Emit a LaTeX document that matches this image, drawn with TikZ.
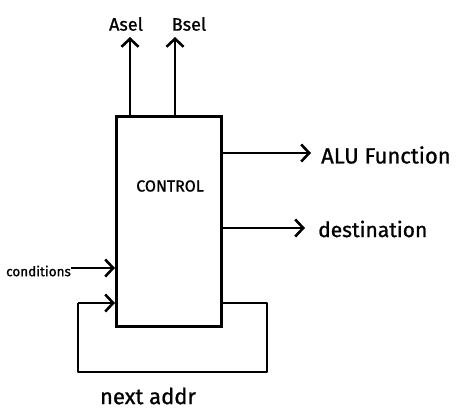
\documentclass[tikz,border=0pt]{standalone}
\usepackage{fontspec}
\setmainfont{Fira Sans}[UprightFeatures={FakeBold=1}]
\usetikzlibrary{arrows.meta}
\begin{document}
\begin{tikzpicture}[x=1pt,y=-1pt,
  wire/.style={line width=2.6pt,line join=round},
  arr/.style={wire,-{Straight Barb[length=8pt,width=17pt,line width=2.6pt]}},
  lbl/.style={inner sep=0pt,font=\fontsize{21}{24}\selectfont}]
\useasboundingbox (0,0) rectangle (462,410);
\node[draw,line width=2.6pt,minimum width=105pt,minimum height=210pt,anchor=north west,inner sep=0pt] (ctl) at (115,115) {};
\node[inner sep=0pt,font=\fontsize{16}{18}\selectfont] (ctltext) at (170,186) {CONTROL};
\coordinate (a0) at (130,115);
\coordinate (b0) at (175,115);
\node[inner sep=0pt,font=\fontsize{18}{20}\selectfont] (asel) at (126,24) {Asel};
\node[inner sep=0pt,font=\fontsize{18}{20}\selectfont] (bsel) at (189,24) {Bsel};
\coordinate (atip) at (130,37);
\coordinate (btip) at (175,37);
\draw[arr] (a0) -- (atip);
\draw[arr] (b0) -- (btip);
\node[lbl,anchor=west,font=\fontsize{22}{24}\selectfont] (alu) at (321,155) {ALU Function};
\node[lbl,anchor=west] (dest) at (318,229) {destination};
\coordinate (aluS) at (220,153);
\coordinate (destS) at (220,228);
\draw[arr] (aluS) -- (311,153);
\draw[arr] (destS) -- (305,228);
\node[inner sep=0pt,anchor=west,font=\fontsize{13.5}{15}\selectfont] (cond) at (6,271) {conditions};
\draw[arr] (cond.east |- 0,268) -- (ctl.west |- 0,268);
\coordinate (l1) at (220,303);
\coordinate (l2) at (267,303);
\coordinate (l3) at (267,372);
\coordinate (l4) at (78,372);
\coordinate (l5) at (78,303);
\draw[wire] (l1) -- (l2) -- (l3) -- (l4) -- (l5);
\draw[arr] (l5) -- (ctl.west |- l5);
\node[lbl,font=\fontsize{22}{24}\selectfont] (next) at (148,396) {next addr};
\end{tikzpicture}
\end{document}
